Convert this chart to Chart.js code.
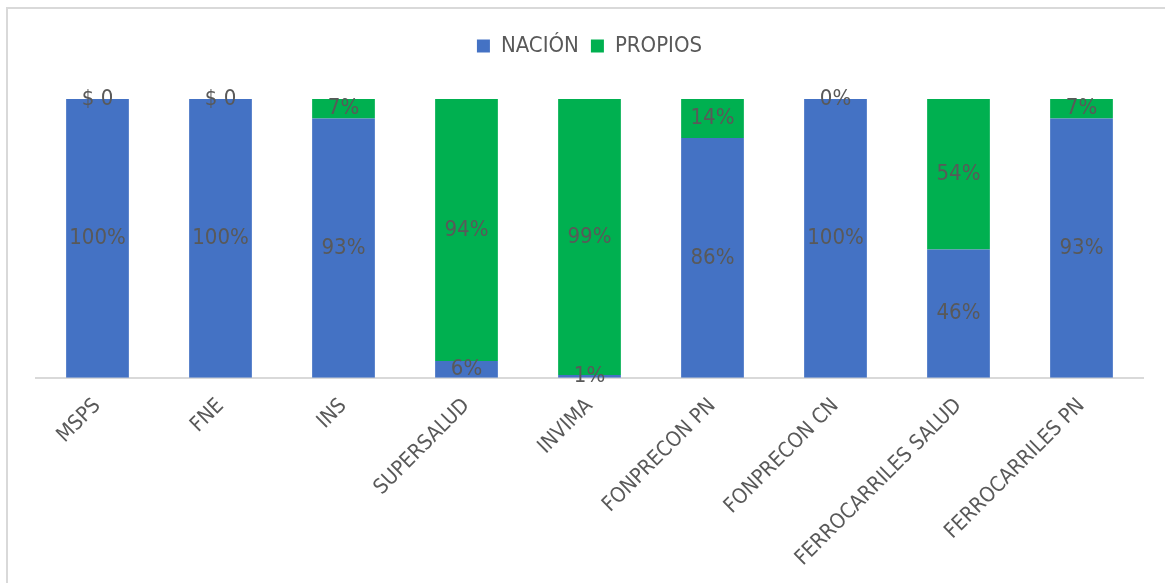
<!DOCTYPE html>
<html>
<head>
<meta charset="utf-8">
<script src="https://cdn.jsdelivr.net/npm/chart.js@4"></script>
<style>
  html, body { margin: 0; background: #fff; overflow: hidden; }
  #marco { position: absolute; left: 6px; top: 7px; width: 1157px; height: 574px;
           border-left: 2px solid #d9d9d9; border-top: 2px solid #d9d9d9; }
  #caja { position: absolute; left: 0; top: 0; width: 1165px; height: 583px; }
</style>
</head>
<body>
<div id="marco"></div>
<div id="caja"><canvas id="grafico"></canvas></div>
<script>
// Categorías y porcentajes
const entidades = ['MSPS', 'FNE', 'INS', 'SUPERSALUD', 'INVIMA', 'FONPRECON PN', 'FONPRECON CN', 'FERROCARRILES SALUD', 'FERROCARRILES PN'];
const nacion = [100, 100, 93, 6, 1, 86, 100, 46, 93];
const propios = [0, 0, 7, 94, 99, 14, 0, 54, 7];
// Etiquetas tal como aparecen (los ceros de MSPS y FNE salen como "$ 0")
const etiquetasNacion = ['100%', '100%', '93%', '6%', '1%', '86%', '100%', '46%', '93%'];
const etiquetasPropios = ['$ 0', '$ 0', '7%', '94%', '99%', '14%', '0%', '54%', '7%'];

const fuente = "'Liberation Sans Narrow', 'DejaVu Sans Condensed', sans-serif";
const gris = '#595959';

// Etiquetas de datos centradas en cada segmento
const etiquetasPlugin = {
    id: 'etiquetas',
    afterDatasetsDraw(chart) {
        const ctx = chart.ctx;
        const textos = [etiquetasNacion, etiquetasPropios];
        ctx.save();
        ctx.font = '22px ' + fuente;
        ctx.fillStyle = gris;
        ctx.textAlign = 'center';
        ctx.textBaseline = 'middle';
        chart.data.datasets.forEach((ds, d) => {
            chart.getDatasetMeta(d).data.forEach((bar, i) => {
                ctx.fillText(textos[d][i], bar.x, (bar.y + bar.base) / 2);
            });
        });
        ctx.restore();
    }
};

// Espacio extra bajo la leyenda
const espacioLeyenda = {
    id: 'espacioLeyenda',
    beforeInit(chart) {
        const fitOriginal = chart.legend.fit;
        chart.legend.fit = function () {
            fitOriginal.bind(chart.legend)();
            this.height += 32;
        };
    }
};

new Chart(document.getElementById('grafico'), {
    type: 'bar',
    data: {
        labels: entidades,
        datasets: [
            { label: 'NACIÓN', data: nacion, backgroundColor: '#4472C4' },
            { label: 'PROPIOS', data: propios, backgroundColor: '#00B050' }
        ]
    },
    options: {
        responsive: true,
        maintainAspectRatio: false,
        animation: false,
        categoryPercentage: 0.51,
        barPercentage: 1,
        layout: { padding: { top: 23, left: 36, right: 22, bottom: 4 } },
        plugins: {
            tooltip: { enabled: false },
            legend: {
                position: 'top',
                labels: {
                    font: { family: fuente, size: 22 },
                    color: gris,
                    boxWidth: 13,
                    boxHeight: 13,
                    padding: 12
                }
            }
        },
        scales: {
            x: {
                stacked: true,
                grid: { display: false },
                border: { display: true, color: '#d9d9d9', width: 2 },
                ticks: {
                    minRotation: 45,
                    maxRotation: 45,
                    padding: 8,
                    color: gris,
                    font: { family: fuente, size: 21 }
                }
            },
            y: {
                stacked: true,
                display: false,
                min: 0,
                max: 100
            }
        }
    },
    plugins: [etiquetasPlugin, espacioLeyenda]
});
</script>
</body>
</html>
